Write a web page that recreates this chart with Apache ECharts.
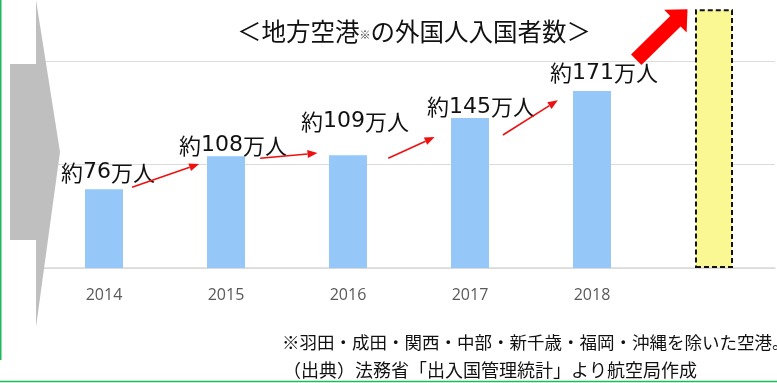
<!DOCTYPE html>
<html>
<head>
<meta charset="utf-8">
<script src="https://cdn.jsdelivr.net/npm/echarts@6/dist/echarts.min.js"></script>
<style>
  html, body { margin: 0; padding: 0; background: #ffffff; }
  #chart { width: 777px; height: 383px; }
</style>
</head>
<body>
<div id="chart"></div>
<script>
// 地方空港の外国人入国者数（万人）
const years = ['2014', '2015', '2016', '2017', '2018', ''];
const visitors = [76, 108, 109, 145, 171];
// 目標を示す黄色の棒（数値ラベルなし）
const targetValue = 250;
const yTicks = [0, 100, 200];

// 年ごとの伸びを示す赤い矢印（カテゴリ位置, 値）
const growthArrows = [
  [[0.23, 78], [0.78, 100.5]],
  [[1.28, 106], [1.75, 111]],
  [[2.33, 106], [2.71, 126.5]],
  [[3.27, 128.5], [3.72, 162]]
];

// ラベル位置の微調整 [dx, dy]
const labelOffsets = [[4, -1], [7, 5], [7, -18], [11, 5], [12, -2]];

const FONT = '"Noto Sans CJK JP", "Noto Sans", sans-serif';
const DIGIT_FONT = '"DejaVu Sans", sans-serif';
const chart = echarts.init(document.getElementById('chart'));

const barData = visitors.map((v, i) => ({
  value: v,
  label: {
    show: true,
    position: 'top',
    distance: 5,
    offset: labelOffsets[i],
    formatter: '約{d|' + v + '}万人',
    fontSize: 22,
    fontFamily: FONT,
    color: '#111111',
    rich: {
      d: { fontSize: 22, fontFamily: DIGIT_FONT, color: '#111111' }
    }
  }
}));
barData.push({
  value: targetValue,
  itemStyle: {
    color: '#f9f893',
    borderColor: '#111111',
    borderWidth: 2,
    borderType: [5, 3]
  },
  label: { show: false }
});

chart.setOption({
  animation: false,
  title: {
    text: '＜地方空港{s|※}の外国人入国者数＞',
    left: 232,
    top: 14,
    textStyle: {
      fontSize: 24.5,
      fontWeight: 'normal',
      fontFamily: FONT,
      color: '#111111',
      rich: {
        s: { fontSize: 11, fontFamily: FONT, color: '#333333', padding: [8, 0, 0, 0] }
      }
    }
  },
  grid: { left: 43, right: 2, top: 61, bottom: 115 },
  xAxis: {
    type: 'category',
    data: years,
    axisLine: { lineStyle: { color: '#d9d9d9', width: 1.5 } },
    axisTick: { show: false },
    axisLabel: { color: '#595959', fontSize: 16, fontFamily: '"Open Sans", sans-serif', margin: 19 }
  },
  yAxis: {
    type: 'value',
    min: yTicks[0],
    max: yTicks[yTicks.length - 1],
    interval: yTicks[1] - yTicks[0],
    axisLabel: { show: false },
    axisLine: { show: false },
    axisTick: { show: false },
    splitLine: { lineStyle: { color: '#dcdcdc', width: 1 } }
  },
  series: [{
    type: 'bar',
    data: barData,
    barWidth: 38,
    clip: false,
    itemStyle: { color: '#95c8f8' },
    z: 3
  }]
});

function toPx(i, v) {
  const i0 = Math.floor(i);
  const f = i - i0;
  const a = chart.convertToPixel({ gridIndex: 0 }, [i0, v]);
  const b = chart.convertToPixel({ gridIndex: 0 }, [i0 + 1, v]);
  return [a[0] + (b[0] - a[0]) * f, a[1]];
}

const graphics = [];

// 左側のグレーのシェブロン
graphics.push({
  type: 'polygon',
  shape: { points: [[10, 64], [36, 64], [36, 0], [60, 152], [36, 327], [36, 240], [10, 240]] },
  style: { fill: '#bfbfbf' },
  z: 10
});

// 緑の枠線
graphics.push({
  type: 'line',
  shape: { x1: 0.75, y1: 0, x2: 0.75, y2: 360 },
  style: { stroke: '#1fb85a', lineWidth: 1.5 },
  z: 10
});
graphics.push({
  type: 'line',
  shape: { x1: 0, y1: 381.5, x2: 777, y2: 381.5 },
  style: { stroke: '#1fb85a', lineWidth: 1.5 },
  z: 10
});

// 赤い細矢印
growthArrows.forEach(([s, e]) => {
  const p0 = toPx(s[0], s[1]);
  const p1 = toPx(e[0], e[1]);
  const dx = p1[0] - p0[0], dy = p1[1] - p0[1];
  const len = Math.hypot(dx, dy);
  const ux = dx / len, uy = dy / len;
  const nx = -uy, ny = ux;
  const hl = 10, hw = 4;
  const bx = p1[0] - ux * hl, by = p1[1] - uy * hl;
  graphics.push({
    type: 'line',
    shape: { x1: p0[0], y1: p0[1], x2: bx, y2: by },
    style: { stroke: '#ee1111', lineWidth: 1.6 },
    z: 20
  });
  graphics.push({
    type: 'polygon',
    shape: { points: [[p1[0], p1[1]], [bx + nx * hw, by + ny * hw], [bx - nx * hw, by - ny * hw]] },
    style: { fill: '#ee1111' },
    z: 20
  });
});

// 目標に向かう太い赤矢印
(function () {
  const top = chart.convertToPixel({ gridIndex: 0 }, [5, targetValue]);
  const apex = [top[0] - 19 - 7.5, top[1]];
  let ux = 0.71, uy = -0.70;
  const ul = Math.hypot(ux, uy); ux /= ul; uy /= ul;
  const nx = -uy, ny = ux;
  const total = 72, headLen = 17, shaftHW = 7.4, headHW = 16;
  const base = [apex[0] - ux * total, apex[1] - uy * total];
  const pt = (a, c) => [base[0] + ux * a + nx * c, base[1] + uy * a + ny * c];
  const sl = total - headLen;
  graphics.push({
    type: 'polygon',
    shape: {
      points: [
        pt(0, -shaftHW), pt(sl, -shaftHW), pt(sl, -headHW),
        pt(total, 0),
        pt(sl, headHW), pt(sl, shaftHW), pt(0, shaftHW)
      ]
    },
    style: { fill: '#ff0000' },
    z: 20
  });
})();

// 注記
graphics.push({
  type: 'text',
  x: 282, y: 342,
  style: {
    text: '※羽田・成田・関西・中部・新千歳・福岡・沖縄を除いた空港。',
    font: '17.5px ' + FONT,
    fill: '#111111',
    verticalAlign: 'middle'
  },
  z: 10
});
graphics.push({
  type: 'text',
  x: 283, y: 370,
  style: {
    text: '（出典）法務省「出入国管理統計」より航空局作成',
    font: '18px ' + FONT,
    fill: '#111111',
    verticalAlign: 'middle'
  },
  z: 10
});

chart.setOption({ graphic: graphics });
</script>
</body>
</html>
